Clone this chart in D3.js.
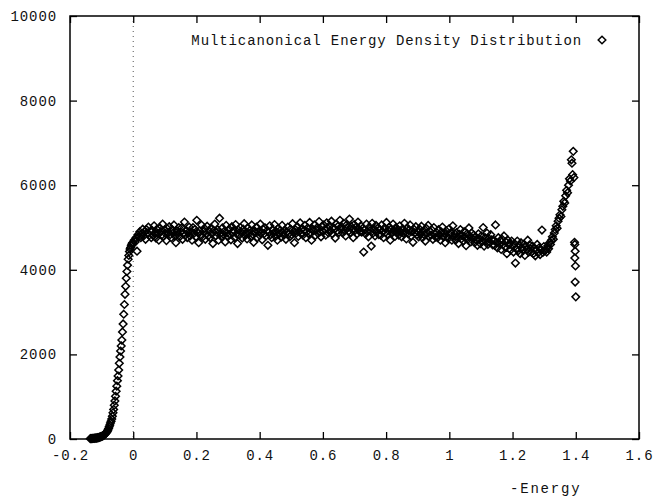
<!DOCTYPE html>
<html>
<head>
<meta charset="utf-8">
<script src="https://cdn.jsdelivr.net/npm/d3@7"></script>
<style>
  html, body { margin: 0; padding: 0; background: #fff; }
  svg { display: block; }
  text { font-family: "Liberation Mono", "DejaVu Sans Mono", monospace; }
</style>
</head>
<body>
<svg id="chart" width="663" height="498"></svg>
<script>
// ---- data ----
const xTicks = [-0.2, 0, 0.2, 0.4, 0.6, 0.8, 1, 1.2, 1.4, 1.6];
const yTicks = [0, 2000, 4000, 6000, 8000, 10000];
const seriesLabel = "Multicanonical Energy Density Distribution";
const xAxisLabel = "-Energy";

// low-energy rise (explicit energies)
const riseEnergy = [-0.136,-0.134,-0.132,-0.130,-0.128,-0.126,-0.124,-0.122,-0.120,-0.118,-0.116,-0.114,-0.112,-0.110,-0.108,-0.106,-0.104,-0.102,-0.100,-0.098,-0.096,-0.094,-0.092,-0.090,-0.088,-0.086,-0.084,-0.082,-0.080,-0.078,-0.076,-0.074,-0.072,-0.070,-0.068,-0.066,-0.064,-0.062,-0.060,-0.058,-0.056,-0.054,-0.052,-0.050,-0.048,-0.046,-0.044,-0.042,-0.040,-0.038,-0.036,-0.034,-0.032,-0.030,-0.028,-0.026,-0.024,-0.022,-0.020,-0.018,-0.016,-0.014,-0.012,-0.010,-0.008,-0.006,-0.004,-0.002];
const riseDensity = [8,12,10,15,12,18,14,20,18,25,22,28,30,35,38,45,50,55,60,70,75,85,95,110,125,140,160,185,215,250,290,330,380,420,470,540,620,700,800,900,1010,1130,1250,1380,1490,1630,1790,1940,2080,2200,2340,2530,2720,2950,3180,3420,3610,3800,3960,4110,4250,4340,4430,4490,4530,4580,4610,4640];

// plateau: energy bins starting at 0.000, bin width 0.003
const plateauStart = 0.0;
const plateauBin = 0.003;
const plateauDensity = [
4620,4700,4660,4760,4440,4830,4780,4900,4760,4850,4960,4800,4900,4720,4950,4870,5010,4820,4910,4760,
4930,4810,5040,4880,4750,4960,4850,4700,4990,4900,4820,5080,4790,4940,4860,4690,4970,4880,5020,4830,
4760,4950,4870,5060,4800,4640,4920,4850,5000,4780,4900,4990,4720,4870,5130,4820,4930,4760,4880,5010,
4800,4900,4700,5000,4860,4950,4780,5170,4880,4640,4920,4830,5060,4770,4900,4980,4720,4850,5030,4800,
4910,4760,4980,4850,4620,4930,5080,4800,4890,4950,4700,5220,4860,4780,4990,4840,4910,4660,5050,4870,
4790,4960,4840,4710,5020,4880,4930,4760,5070,4850,4620,4940,4820,5000,4890,4750,4960,5090,4810,4880,
4730,4990,4860,4930,4780,5060,4840,4650,4920,4880,5010,4760,4900,4820,5080,4870,4710,4960,4850,4990,
4800,4920,4580,4890,5040,4830,4760,4950,4870,5070,4790,4900,4700,4980,4850,4930,4770,5050,4880,4820,
4940,4720,4890,5010,4850,4780,4960,4830,5090,4900,4640,4950,4870,5020,4790,4910,5110,4860,4980,4820,
4930,5050,4760,4900,4990,4850,5120,4880,4700,4970,4920,5060,4810,4940,5000,4860,5140,4900,4780,5020,
4900,5060,4950,4820,5110,4980,4870,5040,4930,5150,4850,5000,4960,4750,5080,4920,5030,4880,5170,4960,
5010,4870,5100,4940,4800,5060,4990,4910,5200,4880,5020,4950,4760,5070,4930,5010,4850,5130,4960,4900,
5040,4890,4980,4420,4940,4850,5080,4910,4780,5010,4930,4560,5100,4870,4960,4800,5050,4900,4990,4830,
4950,4820,5060,4900,4760,4990,4880,5120,4840,4930,5010,4700,4960,4870,5080,4920,4790,5000,4890,4950,
4820,5040,4900,4780,4970,4860,5100,4910,4730,4990,4850,4940,5060,4800,4900,4650,4960,4870,5020,4830,
4900,4780,4960,4850,5030,4760,4920,4830,4680,4980,4870,5050,4790,4900,4820,4940,4720,5000,4850,4770,
4880,4760,4950,4820,4700,4890,5010,4780,4860,4640,4920,4800,4740,4970,4830,4880,4700,5040,4790,4850,
4700,4880,4780,4620,4840,4950,4730,4810,4680,4900,4760,4570,4850,4720,4990,4790,4660,4870,4740,4820,
4640,4780,4700,4580,4850,4720,4620,4800,4690,5000,4560,4760,4680,4870,4600,4740,4650,4830,4710,4590,
4700,4580,5060,4650,4520,4760,4610,4690,4480,4720,4600,4800,4540,4660,4380,4700,4590,4620,4470,4680,
4560,4420,4620,4160,4500,4680,4450,4580,4380,4640,4520,4460,4600,4340,4550,4480,4700,4420,4590,4500,
4420,4560,4380,4500,4330,4470,4600,4400,4520,4360,4480,4940,4410,4550,4450
];

// high-energy end (explicit energies)
const tailEnergy = [1.305,1.308,1.311,1.314,1.317,1.320,1.323,1.326,1.329,1.332,1.335,1.338,1.341,1.344,1.347,1.350,1.353,1.356,1.359,1.362,1.365,1.368,1.371,1.374,1.377,1.380,1.383,1.386,1.388,1.390,1.392,1.394,1.396,1.397,1.398,1.397,1.399,1.398,1.400];
const tailDensity = [4480,4420,4560,4500,4640,4600,4700,4780,4720,4870,4950,5040,4980,5150,5220,5300,5260,5420,5500,5620,5580,5750,5880,5820,6000,6150,6100,6600,6520,6250,6800,6180,4650,4600,4440,4280,4090,3710,3360];

// ---- build point table ----
const points = [];
riseEnergy.forEach((e, i) => points.push({ e, d: riseDensity[i] }));
plateauDensity.forEach((d, i) => points.push({ e: plateauStart + i * plateauBin, d }));
tailEnergy.forEach((e, i) => points.push({ e, d: tailDensity[i] }));

// ---- layout ----
const svg = d3.select("#chart");
const L = 70, R = 639, T = 16, B = 439;
const x = d3.scaleLinear().domain([-0.2, 1.6]).range([L, R]);
const y = d3.scaleLinear().domain([0, 10000]).range([B, T]);

const fontSize = 14;
const ls = 0.9;

// zero axis (dotted)
svg.append("line")
  .attr("x1", x(0)).attr("x2", x(0))
  .attr("y1", T).attr("y2", B)
  .attr("stroke", "#555").attr("stroke-width", 1)
  .attr("stroke-dasharray", "1,4");

// axes
const fmtX = d => d === 0 ? "0" : String(d);
const gx = svg.append("g").attr("transform", `translate(0,${B})`)
  .call(d3.axisBottom(x).tickValues(xTicks).tickFormat(fmtX).tickSize(-7).tickPadding(11));
const gxt = svg.append("g").attr("transform", `translate(0,${T})`)
  .call(d3.axisTop(x).tickValues(xTicks).tickFormat("").tickSize(-7));
const gy = svg.append("g").attr("transform", `translate(${L},0)`)
  .call(d3.axisLeft(y).tickValues(yTicks).tickFormat(d => String(d)).tickSize(-7).tickPadding(13));
const gyr = svg.append("g").attr("transform", `translate(${R},0)`)
  .call(d3.axisRight(y).tickValues(yTicks).tickFormat("").tickSize(-7));

[gx, gxt, gy, gyr].forEach(g => {
  g.select(".domain").remove();
  g.selectAll(".tick line").attr("stroke", "#000").attr("stroke-width", 1.3);
  g.selectAll("text")
    .attr("font-family", '"Liberation Mono", "DejaVu Sans Mono", monospace')
    .attr("font-size", fontSize)
    .attr("letter-spacing", ls)
    .attr("fill", "#111");
});

// frame
svg.append("rect")
  .attr("x", L).attr("y", T).attr("width", R - L).attr("height", B - T)
  .attr("fill", "none").attr("stroke", "#000").attr("stroke-width", 1.5);

// diamonds
const diamond = "M0,-3.8L3.8,0L0,3.8L-3.8,0Z";
svg.append("g").selectAll("path")
  .data(points).join("path")
  .attr("d", diamond)
  .attr("transform", p => `translate(${x(p.e)},${y(p.d)})`)
  .attr("fill", "none").attr("stroke", "#000").attr("stroke-width", 1.5);

// legend
svg.append("text")
  .attr("x", 582).attr("y", 45)
  .attr("text-anchor", "end")
  .attr("font-size", fontSize).attr("letter-spacing", ls)
  .attr("fill", "#111")
  .text(seriesLabel);
svg.append("path")
  .attr("d", diamond)
  .attr("transform", "translate(602,40)")
  .attr("fill", "none").attr("stroke", "#000").attr("stroke-width", 1.5);

// x axis title
svg.append("text")
  .attr("x", 510).attr("y", 493)
  .attr("font-size", fontSize).attr("letter-spacing", 1.8)
  .attr("fill", "#111")
  .text(xAxisLabel);
</script>
</body>
</html>
